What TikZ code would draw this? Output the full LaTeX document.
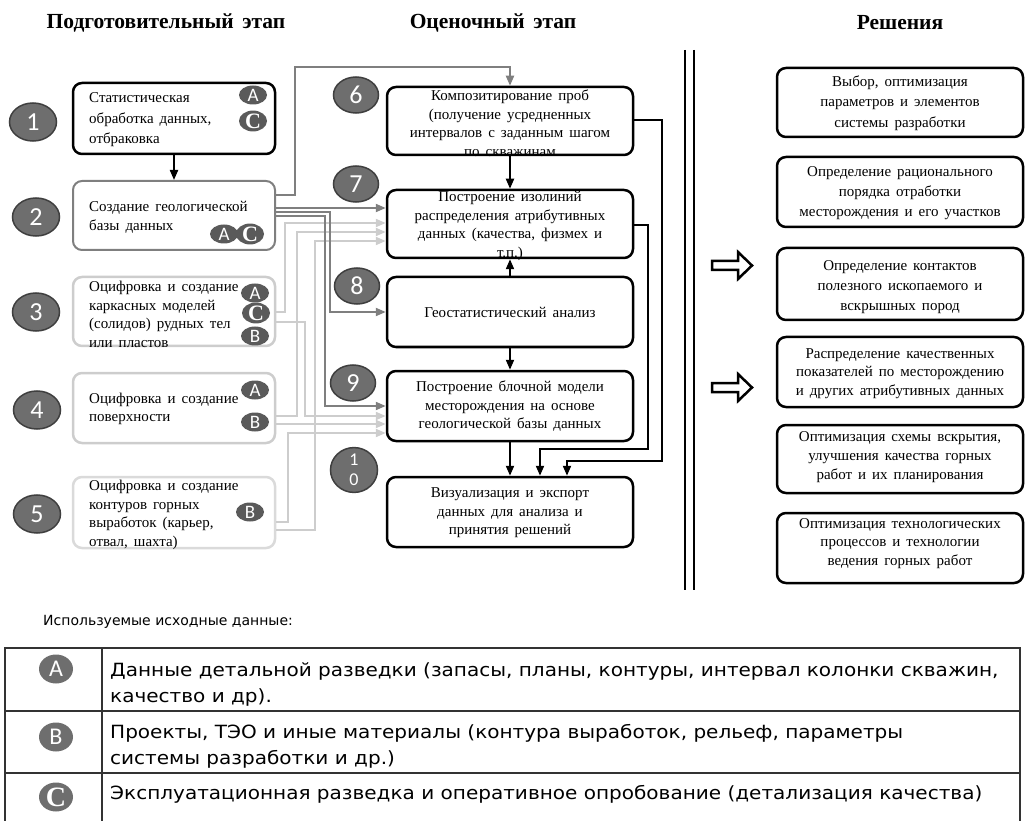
\documentclass[tikz,border=0pt]{standalone}
\usepackage{fontspec}
\setmainfont[WordSpace=1.6]{Liberation Serif}
\newfontfamily\tabfont[FakeStretch=1.1]{DejaVu Sans}
\newfontfamily\tabhfont{DejaVu Sans}
\newfontfamily\numfont{Carlito}
\usetikzlibrary{arrows.meta,shapes.geometric}
\definecolor{numfill}{HTML}{6E6E6E}
\definecolor{numedge}{HTML}{3F3F3F}
\definecolor{badgefill}{HTML}{5A5A5A}
\definecolor{midgray}{HTML}{7F7F7F}
\definecolor{ltgray}{HTML}{CDCDCD}
\definecolor{ltgrayb}{HTML}{DADADA}
\definecolor{tabline}{HTML}{333333}
\begin{document}
\begin{tikzpicture}[x=1pt,y=-1pt,
  boxk/.style={draw=black, rounded corners=9pt, line width=2.5pt, inner sep=0pt},
  boxm/.style={draw=midgray, rounded corners=9pt, line width=2pt, inner sep=0pt},
  boxl/.style={draw=ltgray, rounded corners=9pt, line width=2.5pt, inner sep=0pt},
  boxll/.style={draw=ltgrayb, rounded corners=9pt, line width=2.5pt, inner sep=0pt},
  lsize/.style={minimum width=202pt, minimum height=#1},
  msize/.style={minimum width=246pt, minimum height=#1},
  rsize/.style={minimum width=246pt, minimum height=#1},
  ltxt/.style={anchor=west, align=left, inner sep=0pt, font=\fontsize{15}{#1}\selectfont},
  ctxt/.style={align=center, inner sep=0pt, font=\fontsize{15}{#1}\selectfont},
  hdr/.style={inner sep=0pt, font=\bfseries\fontsize{21.5}{21.5}\selectfont},
  numc/.style={ellipse, draw=numedge, line width=1.5pt, fill=numfill, text=white,
    minimum width=47pt, minimum height=38pt, inner sep=0pt,
    font=\numfont\fontsize{26}{26}\selectfont},
  badge/.style={ellipse, fill=badgefill, text=white, minimum width=28pt, minimum height=19pt,
    inner sep=0pt, font=\numfont\fontsize{19}{19}\selectfont},
  badgec/.style={badge, font=\bfseries\fontsize{22}{22}\selectfont},
  ak/.style={draw=black, line width=2pt, -{Triangle[length=10pt,width=8pt]}},
  am/.style={draw=midgray, line width=2pt, -{Triangle[length=10pt,width=8pt]}},
  al/.style={draw=ltgray, line width=2pt, -{Triangle[length=10pt,width=8pt]}},
  tabtxt/.style={anchor=base west, inner sep=0pt, font=\tabfont\fontsize{18.2}{18.2}\selectfont},
  tbadge/.style={ellipse, fill=numfill, text=white, minimum width=34pt, minimum height=29pt,
    inner sep=0pt, font=\numfont\fontsize{24}{24}\selectfont},
  tbadgec/.style={tbadge, font=\bfseries\fontsize{28}{28}\selectfont},
  hollow/.style={draw=black, line width=2.5pt, fill=white}
]
\useasboundingbox (0,0) rectangle (1029,821);

% headers
\node[hdr] (h1) at (166,23) {Подготовительный этап};
\node[hdr] (h2) at (493,23) {Оценочный этап};
\node[hdr] (h3) at (900,23) {Решения};

% left boxes
\node[boxk, lsize=71pt] (b1) at (174,118.5) {};
\node[boxm, lsize=69pt] (b2) at (174,215.5) {};
\node[boxl, lsize=69pt] (b3) at (174,311.5) {};
\node[boxl, lsize=70pt] (b4) at (174,408) {};
\node[boxll, lsize=71pt] (b5) at (174,512.5) {};

\node[ltxt=20.5] (t1) at (89,120) {Статистическая\\обработка данных,\\отбраковка};
\node[ltxt=19] (t2) at (89,217.5) {Создание геологической\\базы данных};
\node[ltxt=18.5] (t3) at (89,314.5) {Оцифровка и создание\\каркасных моделей\\(солидов) рудных тел\\или пластов};
\node[ltxt=18] (t4) at (89,409) {Оцифровка и создание\\поверхности};
\node[ltxt=18.5] (t5) at (89,515) {Оцифровка и создание\\контуров горных\\выработок (карьер,\\отвал, шахта)};

% badges
\node[badge] (b1a) at (253,95) {A};
\node[badgec] (b1c) at (253,121) {C};
\node[badge] (b2a) at (224,234) {A};
\node[badgec] (b2c) at (250,234) {C};
\node[badge] (b3a) at (255,293) {A};
\node[badgec] (b3c) at (256,313) {C};
\node[badge] (b3b) at (255,336) {B};
\node[badge] (b4a) at (255,390) {A};
\node[badge] (b4b) at (255,422) {B};
\node[badge] (b5b) at (250,512) {B};

% numbers left
\node[numc] (n1) at (33,122) {1};
\node[numc] (n2) at (36,217) {2};
\node[numc] (n3) at (36,312) {3};
\node[numc] (n4) at (37,410) {4};
\node[numc] (n5) at (37,514) {5};

% middle boxes
\node[boxk, msize=68pt] (m6) at (510,121) {};
\node[boxk, msize=68pt] (m7) at (510,224) {};
\node[boxk, msize=70pt] (m8) at (510,312) {};
\node[boxk, msize=70pt] (m9) at (510,406) {};
\node[boxk, msize=70pt] (m10) at (510,512) {};

\node[ctxt=18.5] (t6) at (510,123) {Композитирование проб\\(получение усредненных\\интервалов с заданным шагом\\по скважинам};
\node[ctxt=18.7] (t7) at (510,226) {Построение изолиний\\распределения атрибутивных\\данных (качества, физмех и\\т.п.)};
\node[ctxt=18.5] (t8) at (510,312) {Геостатистический анализ};
\node[ctxt=18.5] (t9) at (510,406.5) {Построение блочной модели\\месторождения на основе\\геологической базы данных};
\node[ctxt=18.5] (t10) at (510,513) {Визуализация и экспорт\\данных для анализа и\\принятия решений};

\node[numc, minimum width=45pt, minimum height=36pt] (n6) at (356,95) {6};
\node[numc, minimum width=45pt, minimum height=36pt] (n7) at (356,184) {7};
\node[numc, minimum width=45pt, minimum height=36pt] (n8) at (357,286) {8};
\node[numc, minimum width=45pt, minimum height=36pt] (n9) at (353,383) {9};
\node[numc, minimum width=47pt, minimum height=35pt, align=center,
  font=\numfont\fontsize{18}{20}\selectfont] (n10) at (354,470) {1\\0};

% right boxes
\node[boxk, rsize=69pt] (r1) at (900,102.5) {};
\node[boxk, rsize=70pt] (r2) at (900,192) {};
\node[boxk, rsize=72pt] (r3) at (900,284) {};
\node[boxk, rsize=70pt] (r4) at (900,372) {};
\node[boxk, rsize=68pt] (r5) at (900,459) {};
\node[boxk, rsize=70pt] (r6) at (900,548) {};

\node[ctxt=20.5] (rt1) at (900,103) {Выбор, оптимизация\\параметров и элементов\\системы разработки};
\node[ctxt=20] (rt2) at (900,193) {Определение рационального\\порядка отработки\\месторождения и его участков};
\node[ctxt=20] (rt3) at (900,287) {Определение контактов\\полезного ископаемого и\\вскрышных пород};
\node[ctxt=18.5] (rt4) at (900,373.5) {Распределение качественных\\показателей по месторождению\\и других атрибутивных данных};
\node[ctxt=19] (rt5) at (900,457) {Оптимизация схемы вскрытия,\\улучшения качества горных\\работ и их планирования};
\node[ctxt=18.5] (rt6) at (900,543.5) {Оптимизация технологических\\процессов и технологии\\ведения горных работ};

% divider
\draw[line width=2.5pt] (685,50) -- (685,590);
\draw[line width=2.5pt] (694,50) -- (694,590);

% hollow arrows
\draw[hollow] (712,261) -- (738,261) -- (738,252) -- (752,265.5) -- (738,279) -- (738,270) -- (712,270) -- cycle;
\draw[hollow] (712,383) -- (738,383) -- (738,374) -- (752,387.5) -- (738,401) -- (738,392) -- (712,392) -- cycle;

% light gray connectors
\draw[al] ([yshift=-0.5pt]b3.east) -| (285,223) -- ([yshift=1pt]m7.west);
\draw[al] ([yshift=-8pt]b4.east) -| (297,232) -- ([yshift=-8pt]m7.west);
\draw[al] ([yshift=-17.5pt]b5.east) -| (315,241) -- ([yshift=-17pt]m7.west);
\draw[al] ([yshift=-10.5pt]b3.east) -| (305,416) -- ([yshift=-10pt]m9.west);
\draw[al] ([yshift=-16pt]b4.east) -- ([yshift=-18pt]m9.west);
\draw[al] ([yshift=-9.5pt]b5.east) -| (288,433) -- ([yshift=-27pt]m9.west);

% mid gray connectors from b2
\draw[am] ([yshift=20.5pt]b2.east) -| (295,67) -| (m6.north);
\draw[am] ([yshift=7.5pt]b2.east) -- ([yshift=16pt]m7.west);
\draw[am] ([yshift=3.5pt]b2.east) -| (330,312) -- (m8.west);
\draw[am] ([yshift=-0.5pt]b2.east) -| (325,406) -- (m9.west);

% black connectors
\draw[ak] (b1.south) -- (b2.north);
\draw[ak] (m6.south) -- (m7.north);
\draw[ak] (m8.north) -- (m7.south);
\draw[ak] (m8.south) -- (m9.north);
\draw[ak] (m9.south) -- (m10.north);
\draw[ak] ([yshift=-1pt]m7.east) -| (648,449) -| ([xshift=30pt]m10.north);
\draw[ak] ([yshift=1pt]m6.east) -| (662,461) -| ([xshift=57pt]m10.north);

% table
\node[anchor=base west, inner sep=0pt, font=\tabhfont\fontsize{14}{14}\selectfont] (th) at (43,625) {Используемые исходные данные:};
\draw[draw=tabline, line width=1.5pt] (5,830) -- (5,648) -- (1020,648) -- (1020,830);
\draw[draw=tabline, line width=1.5pt] (5,711) -- (1020,711);
\draw[draw=tabline, line width=1.5pt] (5,773) -- (1020,773);
\draw[draw=tabline, line width=1.5pt] (102,648) -- (102,830);
\node[tbadge] (ta) at (56,669) {A};
\node[tbadge] (tb) at (56,737) {B};
\node[tbadgec] (tc) at (56,797) {C};
\node[tabtxt] (ta1) at (110,676) {Данные детальной разведки (запасы, планы, контуры, интервал колонки скважин,};
\node[tabtxt] (ta2) at (110,702) {качество и др).};
\node[tabtxt] (tb1) at (110,738) {Проекты, ТЭО и иные материалы (контура выработок, рельеф, параметры};
\node[tabtxt] (tb2) at (110,764) {системы разработки и др.)};
\node[tabtxt] (tc1) at (110,799) {Эксплуатационная разведка и оперативное опробование (детализация качества)};
\end{tikzpicture}
\end{document}
